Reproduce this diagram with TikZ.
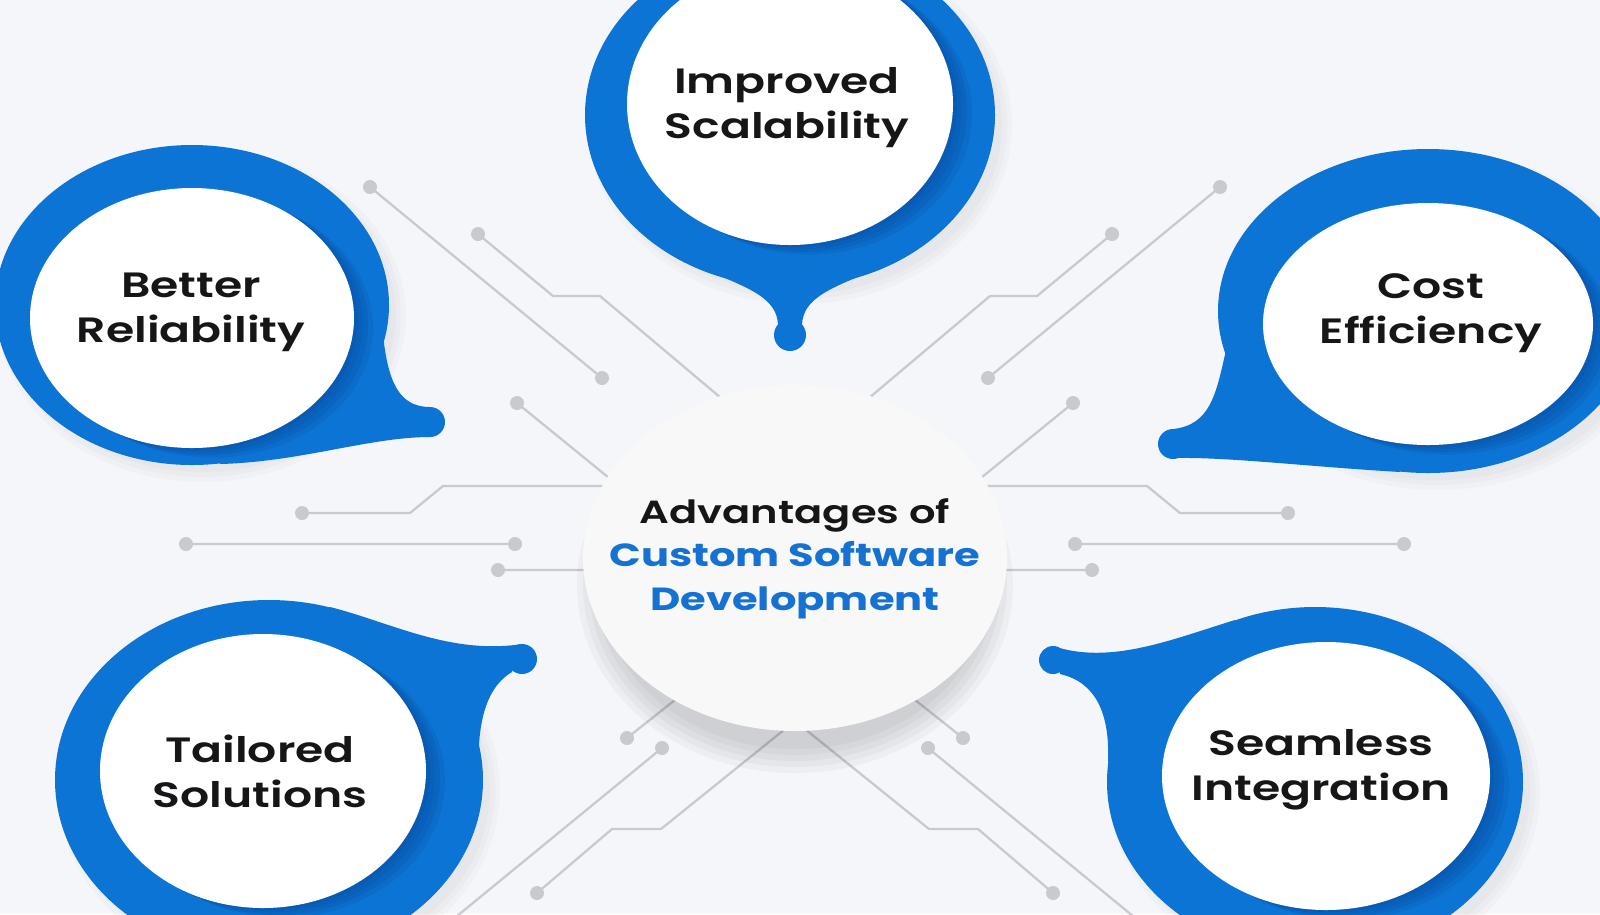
\documentclass[tikz,border=0pt]{standalone}
\usepackage{xcolor}
\usepackage{fontspec}
\setmainfont{Poppins}[UprightFont=* SemiBold, BoldFont=* Bold, FakeStretch=1.3]
\usepackage{tikz}

\definecolor{paper}{RGB}{245,246,250}
\definecolor{dropblue}{RGB}{12,116,212}
\definecolor{dropdark}{RGB}{6,70,150}
\definecolor{wire}{RGB}{201,202,207}
\definecolor{titleblue}{RGB}{22,114,210}
\definecolor{ink}{RGB}{22,22,24}
\definecolor{hubwhite}{RGB}{248,248,249}

% blue x/y/rx/ry , white x/y/rx/ry
\newcommand\bubblelist{790/115/205/172/790/104/163/141,
    192/305/197/160/192/318/162/130,
    1428/311/210/162/1428/324/165/121,
    269/780/214/180/263/771/163/137,
    1315/782/208/175/1326/776/164/134}

\begin{document}
\begin{tikzpicture}[x=0.01cm,y=-0.01cm,
  wireline/.style={draw=wire,line width=0.65pt,line join=round},
  wirepad/.style={fill=wire},
  dropfill/.style={fill=dropblue},
  dropshade/.style={fill=dropdark,opacity=0.16},
  facefill/.style={fill=white},
  facetext/.style={text=ink,align=center,anchor=base,font=\fontsize{10}{12.8}\selectfont},
  hubtext/.style={text=ink,align=center,anchor=base,font=\fontsize{9.1}{12.3}\selectfont}]
% background
\fill[paper] (0,0) rectangle (1600,914);
\useasboundingbox (0,0) rectangle (1600,914);
% upper left wires
\draw[wireline]
   (370,187) -- (602,378)
   (478,234) -- (553,296) -- (600,296) -- (740,414)
   (517,403) -- (630,495)
   (302,513) -- (410,513) -- (443,486) -- (620,486)
   (186,544) -- (515,544)
   (498,570) -- (600,570);
% upper right wires
\draw[wireline]
   (1220,187) -- (988,378)
   (1112,234) -- (1037,296) -- (990,296) -- (850,414)
   (1073,403) -- (960,495)
   (1288,513) -- (1180,513) -- (1147,486) -- (970,486)
   (1075,544) -- (1404,544)
   (1092,570) -- (990,570);
% lower wires
\draw[wireline]
   (627,738) -- (690,688)
   (662,748) -- (440,930)
   (537,893) -- (612,829) -- (661,829) -- (790,725)
   (1053,893) -- (978,829) -- (929,829) -- (800,725)
   (963,738) -- (900,688)
   (928,748) -- (1150,930);
% pads
\foreach \p in {(370,187),(602,378),(478,234),(517,403),(302,513),(186,544),(515,544),(498,570),
    (1220,187),(988,378),(1112,234),(1073,403),(1288,513),(1075,544),(1404,544),(1092,570),
    (627,738),(662,748),(537,893),(1053,893),(963,738),(928,748)}
  \fill[wirepad] \p circle [radius=7];
% hub
\foreach \r in {4,10,16,22,28}
  \fill[black,opacity=0.03] (795,585) ellipse [x radius=190+\r, y radius=160+\r];
\fill[hubwhite] (795,558) ellipse [x radius=212, y radius=173];
\node[hubtext] (hub) at (795,610) {Advantages of\\\textcolor{titleblue}{\bfseries Custom Software}\\\textcolor{titleblue}{\bfseries Development}};
% soft shadows of the bubbles
\foreach \bx/\by/\brx/\bry/\fx/\fy/\frx/\fry in \bubblelist
  \foreach \r in {3,8,13}
    \fill[black,opacity=0.02] (\bx+10,\by+10) ellipse [x radius=\brx+\r-6, y radius=\bry+\r-6];
% blue rings
\foreach \bx/\by/\brx/\bry/\fx/\fy/\frx/\fry in \bubblelist
  \fill[dropfill] (\bx,\by) ellipse [x radius=\brx, y radius=\bry];
% tails
\fill[dropfill] (700,268) .. controls (750,288) and (777,298) .. (778,325) -- (802,325) .. controls (803,298) and (830,288) .. (880,268) -- cycle;
\fill[dropfill] (790,335) circle [radius=16];
\fill[dropfill] (383,335) .. controls (388,380) and (398,407) .. (430,407) -- (430,437) .. controls (370,437) and (300,462) .. (220,464) -- (192,305) -- cycle;
\fill[dropfill] (430,422) circle [radius=15];
\fill[dropfill] (1226,350) .. controls (1216,395) and (1210,425) .. (1173,429) -- (1173,458) .. controls (1230,457) and (1300,466) .. (1400,472) -- (1428,311) -- cycle;
\fill[dropfill] (1173,444) circle [radius=15];
\fill[dropfill] (330,607) .. controls (390,622) and (450,655) .. (522,644) -- (512,672) .. controls (490,685) and (481,712) .. (479,745) -- (269,780) -- cycle;
\fill[dropfill] (522,659) circle [radius=15];
\fill[dropfill] (1235,620) .. controls (1170,640) and (1110,665) .. (1053,646) -- (1060,674) .. controls (1095,682) and (1110,712) .. (1108,762) -- (1315,782) -- cycle;
\fill[dropfill] (1053,660) circle [radius=14];
% shade and white faces
\foreach \bx/\by/\brx/\bry/\fx/\fy/\frx/\fry in \bubblelist
 {\begin{scope}
   \clip (\bx,\by) ellipse [x radius=\brx, y radius=\bry];
   \foreach \d in {4,9,14,19}
     \fill[dropshade] (\fx+\d,\fy+\d/2) ellipse [x radius=\frx, y radius=\fry];
  \end{scope}
  \fill[facefill] (\fx,\fy) ellipse [x radius=\frx, y radius=\fry];}
% texts
\node[facetext] (scal) at (787,138) {Improved\\Scalability};
\node[facetext] (rel) at (191,342) {Better\\Reliability};
\node[facetext] (cost) at (1431,343) {Cost\\Efficiency};
\node[facetext] (tail) at (260,807) {Tailored\\Solutions};
\node[facetext] (seam) at (1321,800) {Seamless\\Integration};
\end{tikzpicture}
\end{document}
